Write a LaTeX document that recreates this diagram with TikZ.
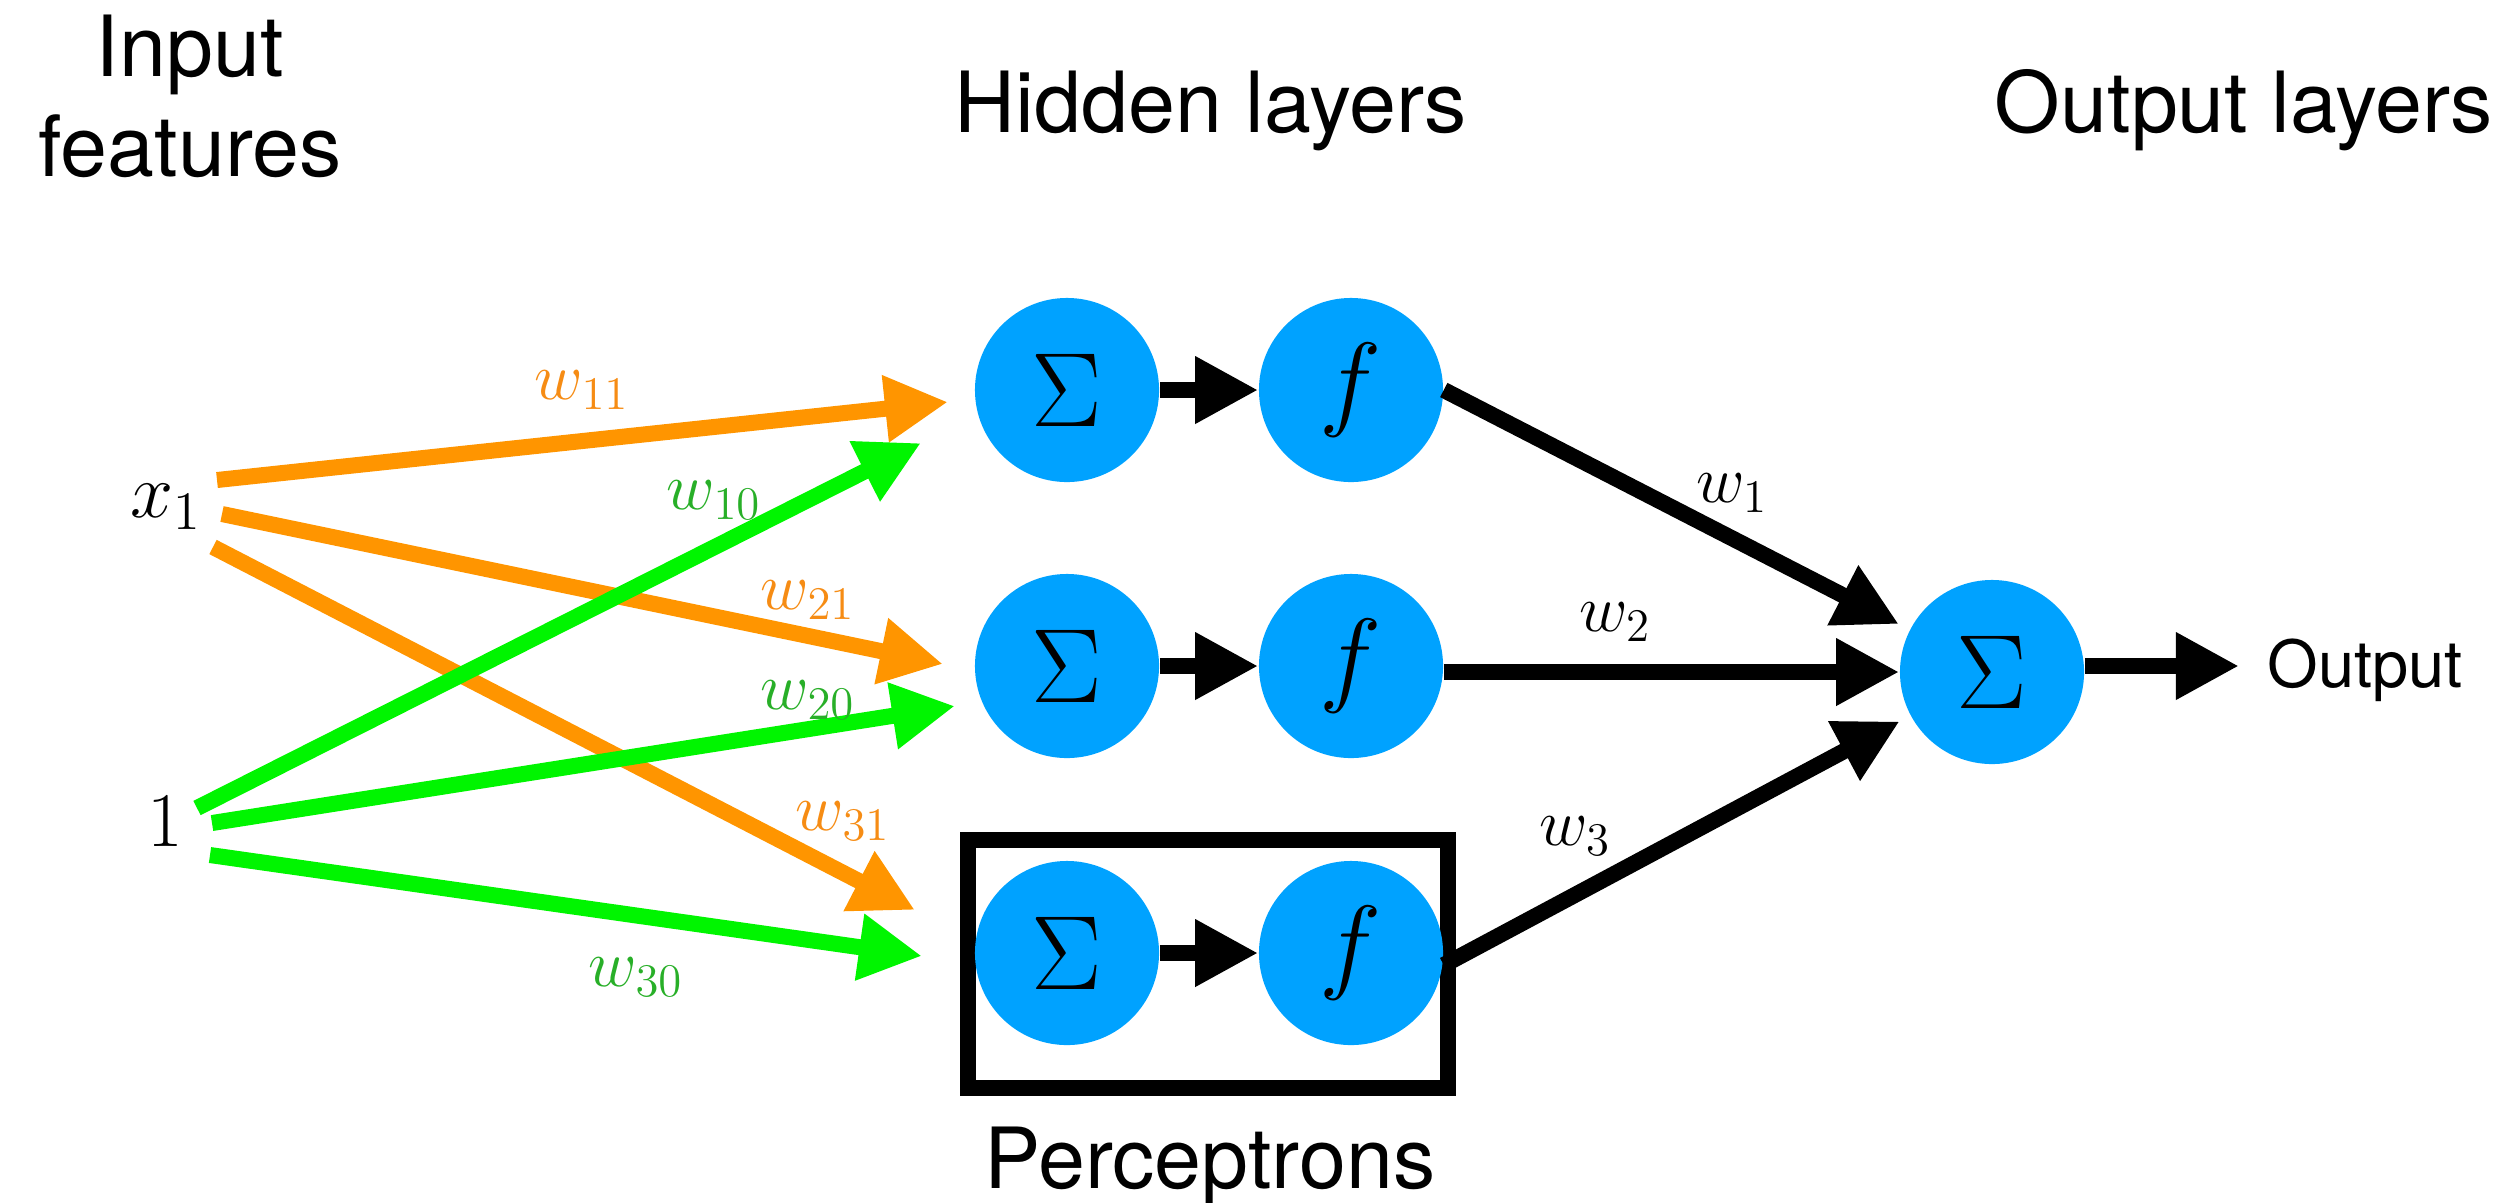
\RequirePackage{fix-cm}
\documentclass[tikz,border=0pt]{standalone}
\usepackage[no-math]{fontspec}
\newfontfamily\helv{TeX Gyre Heros}
\usetikzlibrary{arrows.meta}

\definecolor{nblue}{RGB}{0,162,255}
\definecolor{lineorange}{RGB}{255,149,0}
\definecolor{linegreen}{RGB}{0,245,0}
\definecolor{txtorange}{RGB}{246,140,20}
\definecolor{txtgreen}{RGB}{40,175,40}

\begin{document}
\begin{tikzpicture}[x=0.01cm, y=-0.01cm,
  neuron/.style={circle, fill=nblue, minimum size=1.84cm, inner sep=0pt,
    font=\fontsize{30}{36}\selectfont},
  heading/.style={font=\helv\fontsize{24}{28}\selectfont, inner sep=0pt, anchor=base},
  inlabel/.style={font=\fontsize{22}{26}\selectfont, inner sep=0pt},
  wlabel/.style={font=\fontsize{19}{23}\selectfont, inner sep=0pt},
  arr/.style={-{Triangle[length=0.63cm, width=0.63cm]}, line width=0.16cm},
  orangearr/.style={arr, color=lineorange},
  greenarr/.style={arr, color=linegreen},
  blackarr/.style={arr, color=black},
  framebox/.style={draw, line width=0.155cm, inner sep=0pt,
    minimum width=4.8cm, minimum height=2.48cm}
]
\useasboundingbox (0,0) rectangle (2504,1202);

% column headings
\node[heading] (hin1) at (190,76) {Input};
\node[heading] (hin2) at (190,176) {features};
\node[heading] (hhid) at (1211,132) {Hidden layers};
\node[heading] (hout) at (2244,132) {Output layers};

% perceptron frame and caption
\node[framebox] (pbox) at (1208,964) {};
\node[heading] (pcap) at (1210,1188) {Perceptrons};

% neurons
\node[neuron] (s1) at (1067,390) {$\Sigma$};
\node[neuron] (f1) at (1351,390) {$f$};
\node[neuron] (s2) at (1067,666) {$\Sigma$};
\node[neuron] (f2) at (1351,666) {$f$};
\node[neuron] (s3) at (1067,953) {$\Sigma$};
\node[neuron] (f3) at (1351,953) {$f$};
\node[neuron] (so) at (1992,672) {$\Sigma$};

% inputs and output text
\node[inlabel] (x1) at (166,507) {$x_1$};
\node[inlabel] (b1) at (165,822) {$1$};
\node[font=\helv\fontsize{18.5}{22}\selectfont, inner sep=0pt, anchor=west] (outtxt) at (2267,670) {Output};

% ends of the weighted input connections
\coordinate (o1s) at (217,480);  \coordinate (o1e) at (948,402);
\coordinate (o2s) at (222,514);  \coordinate (o2e) at (943,664);
\coordinate (o3s) at (213,547);  \coordinate (o3e) at (915,910);
\coordinate (g1s) at (197,808);  \coordinate (g1e) at (921,443);
\coordinate (g2s) at (212,823);  \coordinate (g2e) at (955,706);
\coordinate (g3s) at (210,855);  \coordinate (g3e) at (922,956);

% weights from x_1
\draw[orangearr] (o1s) -- (o1e);
\draw[orangearr] (o2s) -- (o2e);
\draw[orangearr] (o3s) -- (o3e);
% bias weights
\draw[greenarr] (g1s) -- (g1e);
\draw[greenarr] (g2s) -- (g2e);
\draw[greenarr] (g3s) -- (g3e);

% weight labels
\node[wlabel, text=txtorange] (w11) at (582,390) {$w_{11}$};
\node[wlabel, text=txtgreen]  (w10) at (714,500) {$w_{10}$};
\node[wlabel, text=txtorange] (w21) at (808,600) {$w_{21}$};
\node[wlabel, text=txtgreen]  (w20) at (808,700) {$w_{20}$};
\node[wlabel, text=txtorange] (w31) at (843,821) {$w_{31}$};
\node[wlabel, text=txtgreen]  (w30) at (636,977) {$w_{30}$};

% sum -> activation
\draw[blackarr] (s1) -- (f1);
\draw[blackarr] (s2) -- (f2);
\draw[blackarr] (s3) -- (f3);

% activations -> output sum
\draw[blackarr, shorten >=0.12cm] (f1.east) -- (so);
\draw[blackarr] (f2.east |- so) -- (so);
\draw[blackarr, shorten >=0.12cm] ([yshift=-0.12cm]f3.east) -- (so);

\node[wlabel] (w1) at (1732,493) {$w_1$};
\node[wlabel] (w2) at (1615,622) {$w_2$};
\node[wlabel] (w3) at (1575,836) {$w_3$};

% final output
\draw[blackarr, shorten >=0.28cm] ([yshift=0.06cm]so.east) -- ([yshift=0.06cm]so.east -| outtxt.west);
\end{tikzpicture}
\end{document}
